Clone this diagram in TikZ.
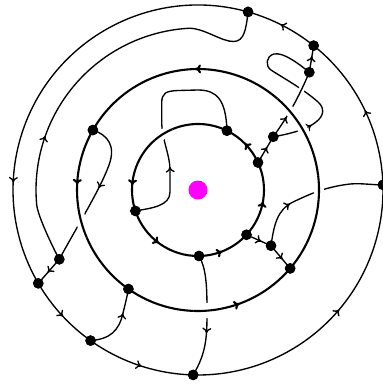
\documentclass[tikz,border=0pt]{standalone}
\usetikzlibrary{arrows.meta,decorations.markings}
\definecolor{mag}{RGB}{255,0,255}
\begin{document}
\begin{tikzpicture}[x=1pt,y=1pt,
  wire/.style={line width=1.35pt},
  ring/.style={line width=2.1pt},
  dot/.style={circle,fill=black,inner sep=0pt,minimum size=10.5pt},
  marr/.style={postaction={decorate,decoration={markings,mark=at position #1 with {\arrow{To[length=5.5pt,width=9pt]}}}}},
  halo/.style={preaction={draw=white,line width=#1}}]
\useasboundingbox (0,0) rectangle (383,-384);
\coordinate (C) at (198,-190);
% nodes on outer circle
\node[dot] (o_r)  at ([shift={(1.6:185pt)}]C) {};
\node[dot] (o_tr) at ([shift={(51.3:185pt)}]C) {};
\node[dot] (o_t)  at ([shift={(74.3:185pt)}]C) {};
\node[dot] (o_l)  at ([shift={(210.3:185pt)}]C) {};
\node[dot] (o_bl) at ([shift={(234.5:185pt)}]C) {};
\node[dot] (o_b)  at ([shift={(268.5:185pt)}]C) {};
% middle circle
\node[dot] (m1) at ([shift={(150.3:121pt)}]C) {};
\node[dot] (m2) at ([shift={(234.9:121pt)}]C) {};
\node[dot] (m3) at ([shift={(319.6:121pt)}]C) {};
% inner circle
\node[dot] (i_t)  at ([shift={(64:66pt)}]C) {};
\node[dot] (i_l)  at ([shift={(198.5:66pt)}]C) {};
\node[dot] (i_b)  at ([shift={(270.9:66pt)}]C) {};
\node[dot] (i_br) at ([shift={(317.3:66pt)}]C) {};
\node[dot] (i_r)  at ([shift={(24.6:66pt)}]C) {};
% free nodes
\node[dot] (n59)  at (59.3,-259.3) {};
\node[dot] (n273) at (273.3,-136.7) {};
\node[dot] (n309) at (309.3,-72.3) {};
\node[dot] (n271) at (271,-245.7) {};
% outer circle arcs
\draw[wire,marr=0.48] (o_r.center) arc[start angle=1.6,end angle=51.3,radius=185pt];
\draw[wire,marr=0.53] (o_tr.center) arc[start angle=51.3,end angle=74.3,radius=185pt];
\draw[wire,marr=0.76] (o_t.center) arc[start angle=74.3,end angle=210.3,radius=185pt];
\draw[wire,marr=0.53] (o_l.center) arc[start angle=210.3,end angle=234.5,radius=185pt];
\draw[wire,marr=0.52] (o_bl.center) arc[start angle=234.5,end angle=268.5,radius=185pt];
\draw[wire,marr=0.55] (o_b.center) arc[start angle=268.5,end angle=361.6,radius=185pt];
% middle circle arcs
\draw[ring,marr=0.69] (m3.center) arc[start angle=319.6,end angle=510.3,radius=121pt];
\draw[ring,marr=0.32] (m1.center) arc[start angle=150.3,end angle=234.9,radius=121pt];
\draw[ring,marr=0.65] (m2.center) arc[start angle=234.9,end angle=319.6,radius=121pt];
% inner circle arcs
\draw[ring,marr=0.83] (i_t.center) arc[start angle=64,end angle=198.5,radius=66pt];
\draw[ring,marr=0.48] (i_l.center) arc[start angle=198.5,end angle=270.9,radius=66pt];
\draw[ring,marr=0.44] (i_b.center) arc[start angle=270.9,end angle=317.3,radius=66pt];
\draw[ring,marr=0.48] (i_br.center) arc[start angle=317.3,end angle=384.6,radius=66pt];
\draw[ring,marr=0.51] (i_r.center) arc[start angle=24.6,end angle=64,radius=66pt];
% wires
\draw[wire,marr=129pt] (n59.center) .. controls (53.5,-248.7) and (37.6,-216) .. ([shift={(185:162pt)}]C)
  arc[start angle=185,end angle=93,radius=162pt]
  .. controls (205,-28.5) and (222,-42) .. (234,-41.5) .. controls (244,-41) and (246,-30) .. (o_t.center);
\draw[wire,marr=68pt] (i_l.center) .. controls (152,-208) and (170,-206) .. (170,-192) -- (170,-170)
  .. controls (170,-155) and (162,-140) .. (161.7,-122) -- (161.7,-103)
  .. controls (161.7,-93) and (166,-91) .. (178,-90.5) -- (198,-90)
  .. controls (217,-90) and (226,-100) .. (i_t.center);
\draw[wire,marr=0.46] (m1.center) .. controls (108,-135) and (116,-146) .. (109,-165)
  .. controls (100,-190) and (75,-230) .. (n59.center);
\draw[wire,marr=0.55] (n59.center) -- (o_l.center);
\draw[wire,marr=0.65] (o_bl.center) .. controls (110,-339) and (119,-331) .. (123,-313)
  .. controls (125,-305) and (127,-297) .. (m2.center);
\draw[wire,marr=0.64] (i_b.center) .. controls (206,-268) and (207,-285) .. (207,-310)
  .. controls (207,-335) and (207,-352) .. (o_b.center);
\draw[wire,marr=0.6] (i_br.center) -- (n271.center);
\draw[wire,marr=0.6] (n271.center) -- (m3.center);
\draw[wire,marr=0.33] (n271.center) .. controls (274,-225) and (277,-210) .. (293,-202)
  .. controls (310,-194) and (325,-187) .. (350,-184) .. controls (362,-183) and (372,-185) .. (o_r.center);
\draw[wire,marr=0.6] (i_r.center) -- (n273.center);
\draw[wire,marr=40pt] (n273.center) .. controls (290,-134) and (308,-129) .. (316,-122)
  .. controls (324,-116) and (325,-108) .. (318,-102)
  .. controls (305,-90) and (280,-76) .. (271,-70)
  .. controls (265,-66) and (266,-56) .. (274,-54)
  .. controls (283,-52) and (298,-63) .. (n309.center);
\draw[wire,marr=0.32,halo=6pt] (n273.center) to[bend right=6] (n309.center);
\draw[wire,marr=0.6] (n309.center) -- (o_tr.center);
% over-crossings of the rings
\draw[ring,halo=10pt] ([shift={(113:66pt)}]C) arc[start angle=113,end angle=131,radius=66pt];
\draw[ring,halo=10pt] ([shift={(188:121pt)}]C) arc[start angle=188,end angle=203,radius=121pt];
\draw[ring,halo=15pt] ([shift={(268:121pt)}]C) arc[start angle=268,end angle=281,radius=121pt];
\draw[ring,halo=10pt] ([shift={(352:121pt)}]C) arc[start angle=352,end angle=367,radius=121pt];
\draw[ring,halo=10pt] ([shift={(24:121pt)}]C) arc[start angle=24,end angle=49,radius=121pt];
% dots on top
\foreach \n in {o_r,o_tr,o_t,o_l,o_bl,o_b,m1,m2,m3,i_t,i_l,i_b,i_br,i_r,n59,n273,n309,n271}
  \fill (\n.center) circle[radius=5.25pt];
\fill[mag] (C) circle[radius=9.5pt];
\end{tikzpicture}
\end{document}
